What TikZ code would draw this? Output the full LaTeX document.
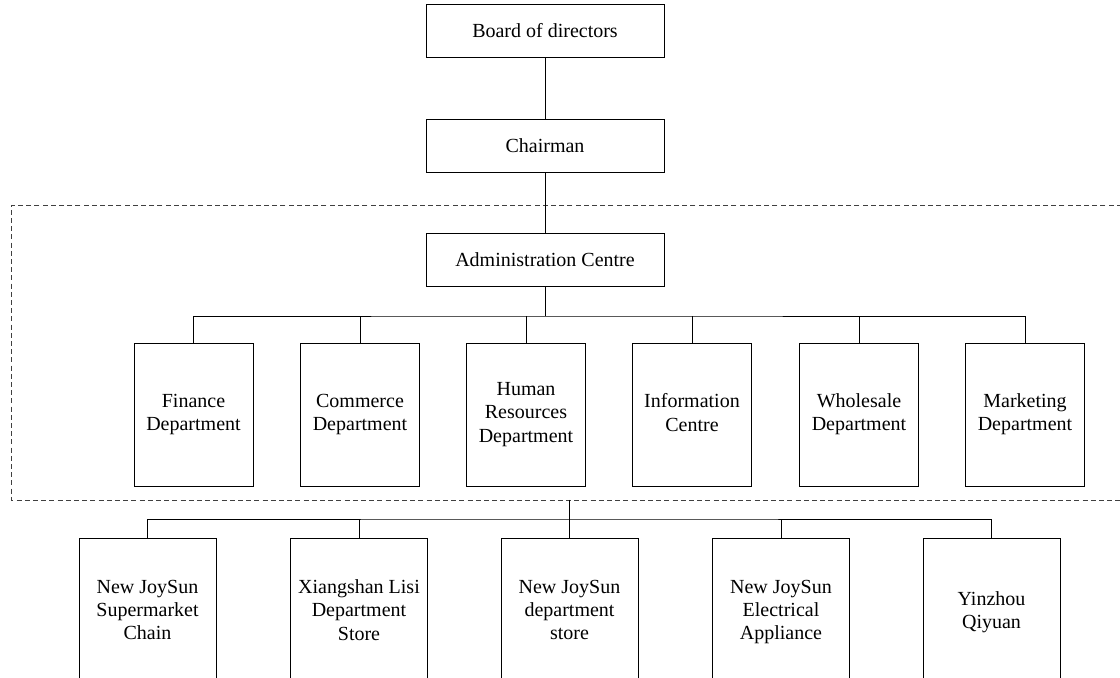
\documentclass[tikz,border=0pt]{standalone}
\usepackage{fontspec}
\setmainfont{Liberation Serif}
\begin{document}
\begin{tikzpicture}[
        x=0.5pt, y=-0.5pt,
        every node/.style={font=\fontsize{10}{11.7}\selectfont},
        topbox/.style={draw, minimum width=119pt, minimum height=26.5pt, inner sep=0pt},
        deptbox/.style={draw, minimum width=59.5pt, minimum height=71.5pt, inner sep=0pt, align=center,
            execute at end node={\vphantom{g}}},
        firmbox/.style={draw, minimum width=68.5pt, minimum height=74pt, inner sep=0pt, align=center,
            execute at end node={\vphantom{g}}},
        groupline/.style={draw=black!75, dash pattern=on 2.5pt off 1.6pt},
        ]

        \clip (0,0) rectangle (1120,678);

        % Top of the chart
        \node[topbox] (board) at (545,30.5) {Board of directors};
        \node[topbox] (chair) at (545,145.5) {Chairman};
        \node[topbox] (admin) at (545,260) {Administration Centre};

        % Group headquarters
        \draw[groupline] (1130,205) -- (11.5,205) -- (11.5,500) -- (1130,500);
        \coordinate (group) at (569.5,500);

        % Departments
        \node[deptbox] (finance) at (193.5,414.5) {Finance\\Department};
        \node[deptbox] (commerce) at (360,414.5) {Commerce\\Department};
        \node[deptbox] (hr) at (526,414.5) {Human\\Resources\\Department};
        \node[deptbox] (info) at (692,414.5) {Information\\Centre};
        \node[deptbox] (wholesale) at (859,414.5) {Wholesale\\Department};
        \node[deptbox] (marketing) at (1025,414.5) {Marketing\\Department};
        \coordinate (dbus) at (545,316);

        % Member companies
        \node[firmbox] (chain) at (147.5,612) {New JoySun\\Supermarket\\Chain};
        \node[firmbox] (lisi) at (359,612) {Xiangshan Lisi\\Department\\Store};
        \node[firmbox] (store) at (569.5,612) {New JoySun\\department\\store};
        \node[firmbox] (appliance) at (781,612) {New JoySun\\Electrical\\Appliance};
        \node[firmbox] (qiyuan) at (991.5,612) {Yinzhou\\Qiyuan};
        \coordinate (sbus) at (569.5,519);

        % Board to chairman to centre
        \draw (board) -- (chair);
        \draw (chair) -- (admin);

        % Centre to departments
        \draw (admin) -- (dbus);
        \draw (finance) |- (dbus) -| (marketing);
        \draw (commerce) -- (commerce |- dbus);
        \draw (hr) -- (hr |- dbus);
        \draw (info) -- (info |- dbus);
        \draw (wholesale) -- (wholesale |- dbus);

        % Group to companies
        \draw (group) -- (store);
        \draw (chain) |- (sbus) -| (qiyuan);
        \draw (lisi) -- (lisi |- sbus);
        \draw (appliance) -- (appliance |- sbus);

    \end{tikzpicture}
\end{document}
